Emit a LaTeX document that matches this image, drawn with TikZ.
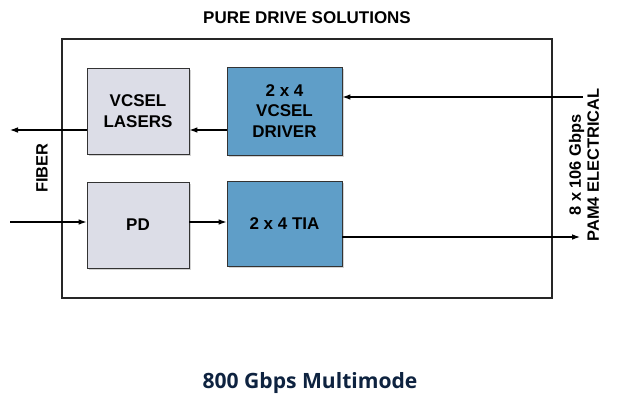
\documentclass[tikz,border=0pt]{standalone}
\usepackage{fontspec}
\setmainfont{Liberation Sans}
\newfontfamily\titlefont{Open Sans}
\usetikzlibrary{arrows.meta,shadows}
\definecolor{boxgray}{HTML}{DCDDE7}
\definecolor{boxblue}{HTML}{5F9EC8}
\definecolor{navy}{HTML}{0E2340}

\begin{document}
\begin{tikzpicture}[x=0.03cm, y=-0.03cm,
            every node/.style={font=\bfseries\fontsize{14.5}{16.5}\selectfont, align=center, inner sep=0pt}
        ]
        \tikzstyle {gray_box} = [rectangle, draw=black!80, line width=0.8pt, fill=boxgray,
            drop shadow={shadow xshift=0.07cm, shadow yshift=-0.07cm, opacity=0.35}]
        \tikzstyle {blue_box} = [gray_box, fill=boxblue]
        \tikzstyle {sig} = [line width=0.9pt, -{Latex[length=2.4mm,width=1.7mm]}]
        \tikzstyle {side_text} = [font=\bfseries\fontsize{14}{15.5}\selectfont, rotate=90]

        \useasboundingbox (0,0) rectangle (621,407);
        \draw [line width=0.9pt, black!85] (62,39) rectangle (552,298);

        \node (title) at (307,18) {\fontsize{14.5}{16}\selectfont PURE DRIVE SOLUTIONS};

        \node [gray_box, minimum width=3.06cm, minimum height=2.58cm] (las) at (138,111) {VCSEL\\[1pt]LASERS};
        \node [blue_box, minimum width=3.45cm, minimum height=2.64cm] (drv) at (284.5,111) {2 x 4\\[1pt]VCSEL\\[1pt]DRIVER};
        \node [gray_box, minimum width=3.06cm, minimum height=2.58cm] (pd) at (138,225) {PD};
        \node [blue_box, minimum width=3.45cm, minimum height=2.55cm] (tia) at (284.5,223.5) {2 x 4 TIA};

        \node [side_text] (fiber) at (42,168) {FIBER};
        \node [side_text] (elec) at (584,165) {8 x 106 Gbps\\PAM4 ELECTRICAL};

        \node (caption) at (310,383) {\titlefont\bfseries\color{navy}\fontsize{18}{21}\selectfont 800 Gbps Multimode};

        \coordinate (fib_out) at (10,130);
        \coordinate (fib_in) at (10,222);
        \coordinate (el_in) at (583,97);
        \coordinate (el_out) at (580,237);

        \draw [sig] (el_in) -- (drv.east |- el_in);
        \draw [sig] (drv.west |- fib_out) -- (las.east |- fib_out);
        \draw [sig] (las.west |- fib_out) -- (fib_out);
        \draw [sig] (fib_in) -- (pd.west |- fib_in);
        \draw [sig] (pd.east |- fib_in) -- (tia.west |- fib_in);
        \draw [sig] (tia.east |- el_out) -- (el_out);

        \end{tikzpicture}
\end{document}
